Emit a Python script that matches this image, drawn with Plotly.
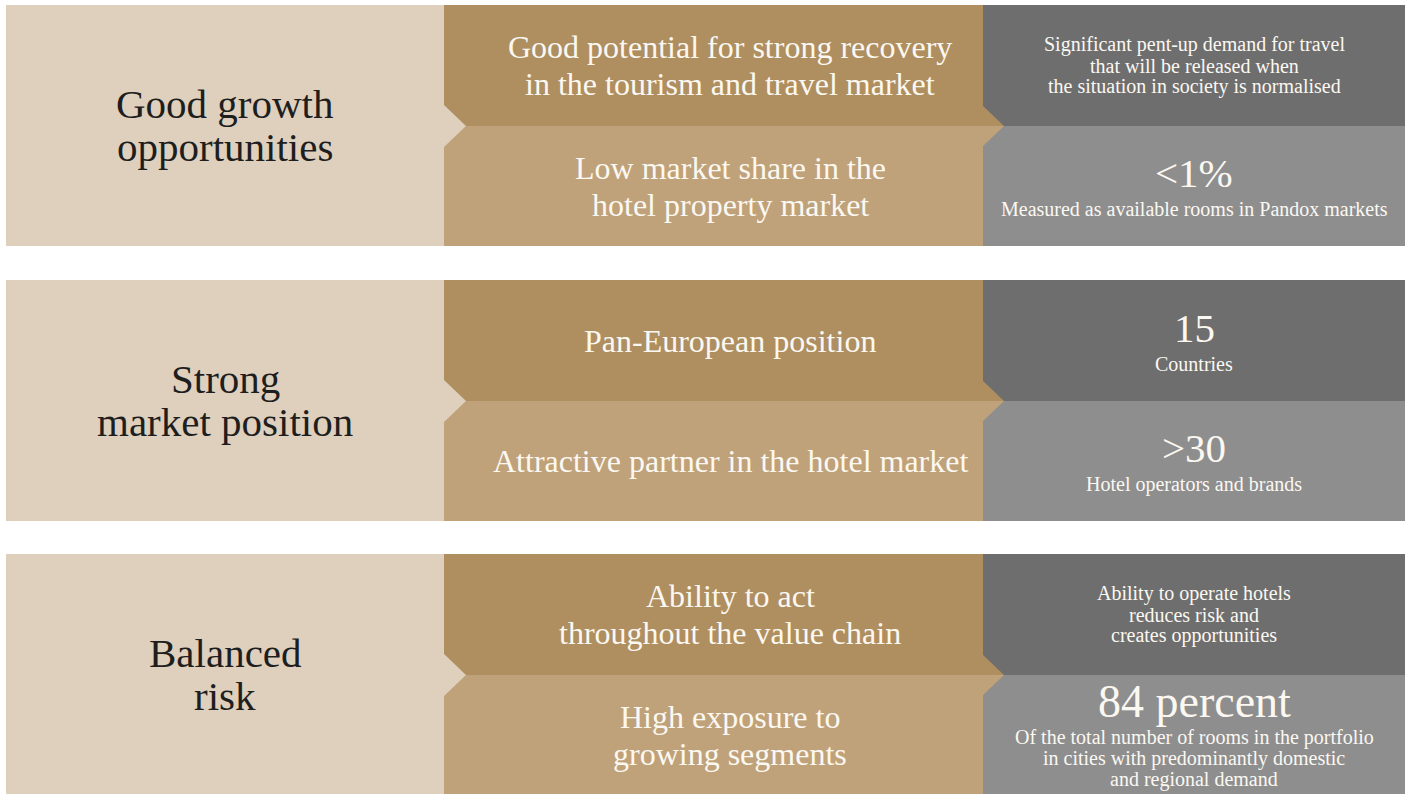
import plotly.graph_objects as go

# ---------------- data ----------------
left_titles = [
    ["Good growth", "opportunities"],
    ["Strong", "market position"],
    ["Balanced", "risk"],
]
middle_top = [
    ["Good potential for strong recovery", "in the tourism and travel market"],
    ["Pan-European position"],
    ["Ability to act", "throughout the value chain"],
]
middle_bottom = [
    ["Low market share in the", "hotel property market"],
    ["Attractive partner in the hotel market"],
    ["High exposure to", "growing segments"],
]
right_top_big = [None, "15", None]
right_top_text = [
    ["Significant pent-up demand for travel", "that will be released when",
     "the situation in society is normalised"],
    ["Countries"],
    ["Ability to operate hotels", "reduces risk and", "creates opportunities"],
]
right_bottom_big = ["<1%", ">30", "84 percent"]
right_bottom_text = [
    ["Measured as available rooms in Pandox markets"],
    ["Hotel operators and brands"],
    ["Of the total number of rooms in the portfolio",
     "in cities with predominantly domestic", "and regional demand"],
]

# ---------------- layout constants ----------------
W, H = 1410, 794
X0, X1, X2, X3 = 6, 444, 983, 1405
group_tops = [5, 280, 554]
group_h = 241
NOTCH_W, NOTCH_H = 22, 21

C_LEFT = "#DED0BC"
C_MID_TOP = "#AF8F60"
C_MID_BOT = "#C0A27A"
C_RIGHT_TOP = "#6E6E6E"
C_RIGHT_BOT = "#8E8E8E"
C_DARK_TEXT = "#1E1E1E"
C_LIGHT_TEXT = "#FBF8F2"

FONT = "Liberation Serif"
SIZE_LEFT, SIZE_MID, SIZE_SMALL = 41, 32, 20

shapes = []
annotations = []


def rect(x0, y0, x1, y1, color):
    shapes.append(dict(type="rect", xref="x", yref="y", x0=x0, y0=y0, x1=x1, y1=y1,
                       fillcolor=color, line=dict(width=0), layer="below"))


def poly(points, color):
    path = "M " + " L ".join(f"{px},{py}" for px, py in points) + " Z"
    shapes.append(dict(type="path", xref="x", yref="y", path=path,
                       fillcolor=color, line=dict(width=0), layer="below"))


def add_text(t, x, y, size, color):
    annotations.append(dict(x=x, y=y, xref="x", yref="y", text=t, showarrow=False,
                            xanchor="center", yanchor="middle",
                            font=dict(family=FONT, size=size, color=color)))


def text_lines(lines, cx, cy, size, color, spacing):
    n = len(lines)
    for i, t in enumerate(lines):
        add_text(t, cx, cy + (i - (n - 1) / 2) * spacing, size, color)


def big_block(big, lines, cx, cy):
    if big is None:
        text_lines(lines, cx, cy, SIZE_SMALL, C_LIGHT_TEXT, 21)
        return
    n = len(lines)
    height = 36 + 21 * (n - 1)
    by = cy - height / 2 + 5
    big_size = 46 if len(big) > 4 else 41
    add_text(big, cx, by, big_size, C_LIGHT_TEXT)
    for i, t in enumerate(lines):
        add_text(t, cx, by + 36 + 21 * i, SIZE_SMALL, C_LIGHT_TEXT)


for g in range(len(left_titles)):
    top = group_tops[g]
    bot = min(top + group_h, H)
    mid = top + 121
    # right column
    rect(X2, top, X3, mid, C_RIGHT_TOP)
    rect(X2, mid, X3, bot, C_RIGHT_BOT)
    # middle column
    rect(X1, top, X2, mid, C_MID_TOP)
    rect(X1, mid, X2, bot, C_MID_BOT)
    # middle notch into right column
    poly([(X2 - 1, mid - NOTCH_H), (X2 + NOTCH_W - 1, mid), (X2 - 1, mid)], C_MID_TOP)
    poly([(X2 - 1, mid), (X2 + NOTCH_W - 1, mid), (X2 - 1, mid + NOTCH_H)], C_MID_BOT)
    # left column with notch
    poly([(X0, top), (X1, top), (X1, mid - NOTCH_H), (X1 + NOTCH_W, mid),
          (X1, mid + NOTCH_H), (X1, bot), (X0, bot)], C_LEFT)

    cx_left = (X0 + X1) / 2
    cx_mid = (X1 + NOTCH_W + X2 + NOTCH_W / 2) / 2
    cx_right = (X2 + X3) / 2
    text_lines(left_titles[g], cx_left, (top + top + group_h) / 2, SIZE_LEFT, C_DARK_TEXT, 43)
    text_lines(middle_top[g], cx_mid, (top + mid) / 2, SIZE_MID, C_LIGHT_TEXT, 37)
    text_lines(middle_bottom[g], cx_mid, (mid + top + group_h) / 2, SIZE_MID, C_LIGHT_TEXT, 37)
    big_block(right_top_big[g], right_top_text[g], cx_right, (top + mid) / 2)
    big_block(right_bottom_big[g], right_bottom_text[g], cx_right, (mid + top + group_h) / 2)

fig = go.Figure()
fig.update_layout(
    width=W, height=H,
    margin=dict(l=0, r=0, t=0, b=0),
    paper_bgcolor="white", plot_bgcolor="white",
    xaxis=dict(range=[0, W], visible=False, fixedrange=True),
    yaxis=dict(range=[H, 0], visible=False, fixedrange=True),
    shapes=shapes, annotations=annotations, showlegend=False,
)
fig.write_html("out.html", config={"displayModeBar": False},
               post_script="document.body.style.margin='0';document.body.style.overflow='hidden';")
